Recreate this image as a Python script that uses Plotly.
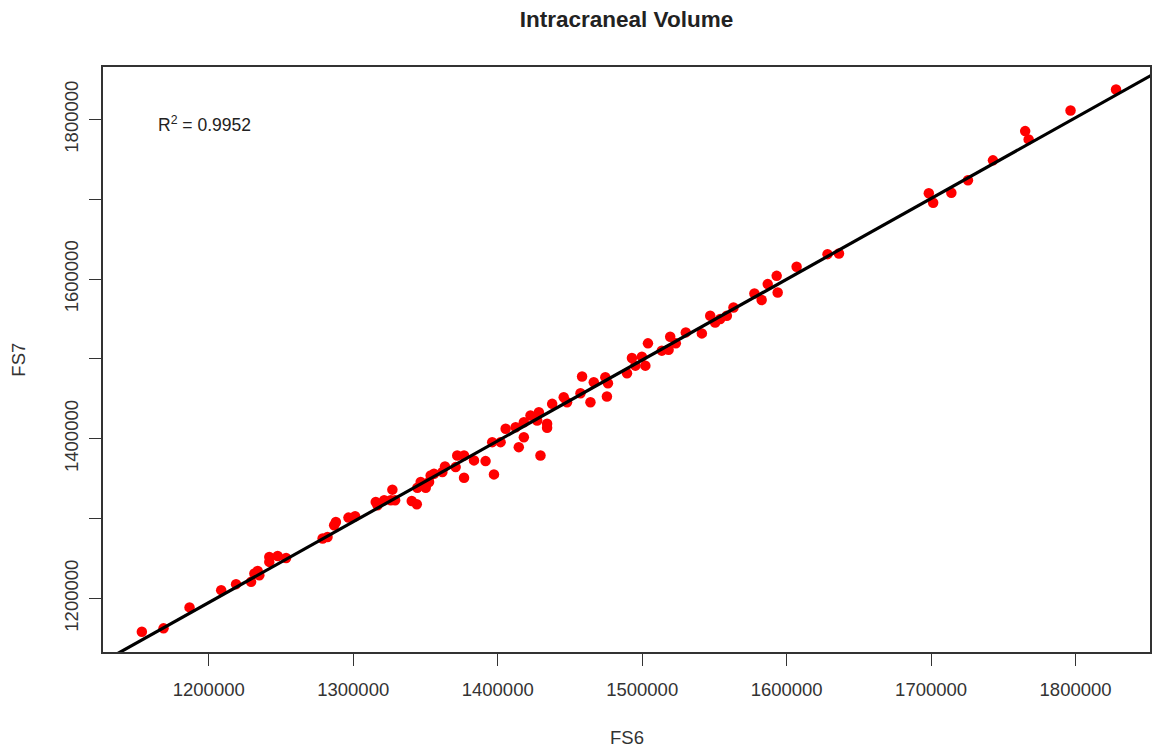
import numpy as np
import plotly.graph_objects as go

# FS6 (x) and FS7 (y) intracranial volumes
fs6 = [1153700, 1168700, 1186700, 1208600, 1218900, 1229300, 1231600, 1235000, 1233900, 1241900,
       1241900, 1247700, 1253500, 1278800, 1282200, 1286800, 1288000, 1296700, 1301300, 1315600,
       1316800, 1321400, 1326000, 1327100, 1329000, 1340500, 1344000, 1344400, 1346700, 1350200,
       1352500, 1353600, 1355900, 1361700, 1363500, 1370900, 1372000, 1376700, 1376700, 1383600,
       1391600, 1396200, 1397400, 1402000, 1405500, 1412400, 1414600, 1418100, 1418100, 1422700,
       1427300, 1428500, 1434200, 1434200, 1429600, 1437700, 1445700, 1448000, 1458400, 1457300,
       1464200, 1466500, 1474500, 1476300, 1475600, 1489500, 1492900, 1495300, 1499800, 1502200,
       1504000, 1513600, 1518300, 1519400, 1523300, 1530200, 1541300, 1547100, 1550500, 1554000,
       1558600, 1563200, 1577700, 1582700, 1586900, 1593100, 1593800, 1606900, 1628300, 1636200,
       1698400, 1701400, 1714000, 1725500, 1742800, 1765100, 1767500, 1796500, 1828000]
fs7 = [1158250, 1162500, 1188750, 1210400, 1217900, 1220750, 1231250, 1229100, 1234500, 1252000,
       1245750, 1253250, 1250750, 1275000, 1277000, 1291600, 1295750, 1301250, 1302900, 1320750,
       1316600, 1322900, 1322900, 1336250, 1322900, 1322000, 1317900, 1338750, 1345750, 1338750,
       1345750, 1354100, 1356250, 1358250, 1365400, 1364500, 1379100, 1379100, 1351250, 1372900,
       1372000, 1395750, 1355400, 1395750, 1412500, 1414500, 1389500, 1402000, 1420750, 1429100,
       1422900, 1433250, 1418750, 1413750, 1379100, 1443750, 1452000, 1445750, 1477900, 1457000,
       1445750, 1470750, 1477000, 1469500, 1452900, 1482000, 1501250, 1491600, 1502900, 1491600,
       1519500, 1510400, 1511600, 1527900, 1519500, 1533250, 1532000, 1554100, 1545750, 1550000,
       1554100, 1564500, 1582000, 1573750, 1593750, 1604100, 1583250, 1615400, 1631250, 1632000,
       1707500, 1695750, 1708250, 1723750, 1748750, 1785400, 1775000, 1811250, 1837500]

x_tick_vals = [1200000, 1300000, 1400000, 1500000, 1600000, 1700000, 1800000]
x_tick_text = ["1200000", "1300000", "1400000", "1500000", "1600000", "1700000", "1800000"]
y_tick_vals = [1200000, 1400000, 1600000, 1800000]
y_tick_text = ["1200000", "1400000", "1600000", "1800000"]
y_minor_vals = [1300000, 1500000, 1700000]

title_text = "Intracraneal Volume"
r2_text = "R<sup>2</sup> = 0.9952"

x_range = [1126800, 1851500]
y_range = [1132900, 1865700]

slope, intercept = np.polyfit(fs6, fs7, 1)
line_x = [x_range[0] - 20000, x_range[1] + 20000]
line_y = [slope * v + intercept for v in line_x]

FONT = "Liberation Sans, Arial, Helvetica, sans-serif"

fig = go.Figure()
fig.add_trace(go.Scatter(x=fs6, y=fs7, mode="markers",
                         marker=dict(color="#ff0000", size=10.5, line=dict(width=0)),
                         showlegend=False, cliponaxis=False))
fig.add_trace(go.Scatter(x=line_x, y=line_y, mode="lines",
                         line=dict(color="#000000", width=3.2), showlegend=False))

axis_common = dict(
    showgrid=False, zeroline=False, showline=True, mirror=True,
    linecolor="#333333", linewidth=1.5,
    ticks="outside", ticklen=12, tickwidth=1.3, tickcolor="#333333",
    tickfont=dict(family=FONT, size=18.5, color="#333333"),
    tickmode="array",
)

fig.update_layout(
    width=1157, height=751,
    margin=dict(l=103, r=5, t=67, b=99),
    paper_bgcolor="white", plot_bgcolor="white",
    xaxis=dict(range=x_range, tickvals=x_tick_vals, ticktext=x_tick_text,
               ticklabelstandoff=8, **axis_common),
    yaxis=dict(range=y_range, tickvals=y_tick_vals, ticktext=y_tick_text, tickangle=-90,
               ticklabelstandoff=4,
               minor=dict(tickmode="array", tickvals=y_minor_vals, ticks="outside",
                          ticklen=12, tickwidth=1.3, tickcolor="#333333", showgrid=False),
               **axis_common),
    title=dict(text="<b>" + title_text + "</b>", x=0.5, xref="paper", xanchor="center",
               y=1 - 19 / 751, yref="container", yanchor="middle",
               font=dict(family=FONT, size=22.5, color="#222222")),
    annotations=[
        dict(text="FS6", x=0.5, y=-(737 - 652) / 585, xref="paper", yref="paper",
             xanchor="center", yanchor="middle", showarrow=False,
             font=dict(family=FONT, size=18.5, color="#333333")),
        dict(text="FS7", x=(18 - 103) / 1049, y=0.5, xref="paper", yref="paper",
             xanchor="center", yanchor="middle", textangle=-90, showarrow=False,
             font=dict(family=FONT, size=18.5, color="#333333")),
        dict(text=r2_text, x=(156 - 103) / 1049, y=1 - (124 - 67) / 585, xref="paper", yref="paper",
             xanchor="left", yanchor="middle", showarrow=False,
             font=dict(family=FONT, size=17.5, color="#222222")),
    ],
)

fig.write_html("out.html")
